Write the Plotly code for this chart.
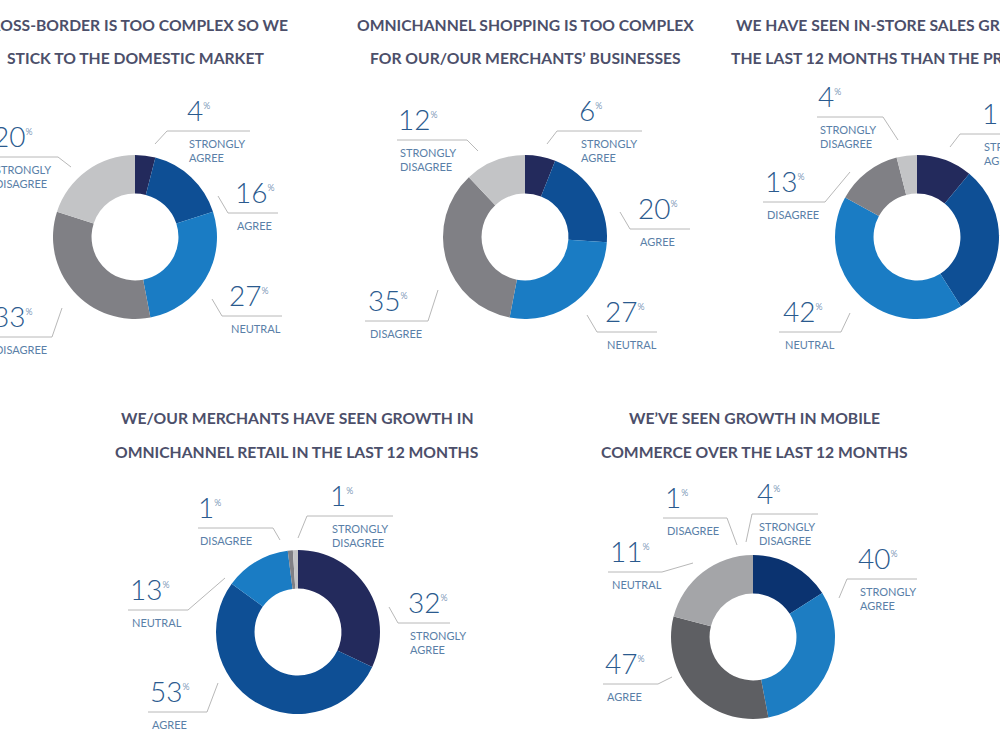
import plotly.graph_objects as go

W, H = 1000, 749

# ---------------- data ----------------
categories = ["STRONGLY<br>AGREE", "AGREE", "NEUTRAL", "DISAGREE", "STRONGLY<br>DISAGREE"]

cross_border_pct = [4, 16, 27, 33, 20]
omni_complex_pct = [6, 20, 27, 35, 12]
instore_growth_pct = [11, 30, 42, 13, 4]
omni_growth_pct = [32, 53, 13, 1, 1]
mobile_label_pct = [40, 47, 11, 1, 4]          # values printed on the labels
mobile_ring_share = [16, 31, 32, 21]           # ring segments as drawn in the picture

titles = [
    ["CROSS-BORDER IS TOO COMPLEX SO WE", "STICK TO THE DOMESTIC MARKET"],
    ["OMNICHANNEL SHOPPING IS TOO COMPLEX", "FOR OUR/OUR MERCHANTS\u2019 BUSINESSES"],
    ["WE HAVE SEEN IN-STORE SALES GROW MORE IN", "THE LAST 12 MONTHS THAN THE PREVIOUS 12"],
    ["WE/OUR MERCHANTS HAVE SEEN GROWTH IN", "OMNICHANNEL RETAIL IN THE LAST 12 MONTHS"],
    ["WE\u2019VE SEEN GROWTH IN MOBILE", "COMMERCE OVER THE LAST 12 MONTHS"],
]

# ---------------- styles ----------------
pal_main = ["#232a5c", "#0e4f95", "#1a7cc4", "#808085", "#c3c4c6"]
pal_mobile = ["#0b3370", "#1d7dc2", "#5e5f63", "#a4a5a8"]
TITLE_C = "#4c4f6a"
NUM_C = "#2a5a8e"
CAT_C = "#5a7fa8"
LINE_C = "#b8b8b8"
HOLE = 0.53
R = 82

def px(x, y):
    return x / W, 1 - y / H

fig = go.Figure()

# donut layout: centre (px)
donuts = [
    dict(values=cross_border_pct, colors=pal_main, c=(135, 237)),
    dict(values=omni_complex_pct, colors=pal_main, c=(525, 237)),
    dict(values=instore_growth_pct, colors=pal_main, c=(917, 237)),
    dict(values=omni_growth_pct, colors=pal_main, c=(298, 632)),
    dict(values=mobile_ring_share, colors=pal_mobile, c=(753, 637)),
]

for d in donuts:
    cx, cy = d["c"]
    x0, y1 = px(cx - R, cy - R)
    x1, y0 = px(cx + R, cy + R)
    fig.add_trace(go.Pie(
        values=d["values"],
        marker=dict(colors=d["colors"], line=dict(width=0)),
        hole=HOLE, sort=False, direction="clockwise", rotation=0,
        textinfo="none", hoverinfo="skip", showlegend=False,
        domain=dict(x=[max(0, x0), min(1, x1)], y=[max(0, y0), min(1, y1)]),
    ))

# label placements: (text_x, line_y, line_x0, line_x1, tip_x, tip_y, elbow side)
placements = [
    [(187, 131, 167, 250, 155, 144, "l"), (235, 213, 228, 278, 218, 196, "l"),
     (229, 316, 222, 282, 212, 299, "l"), (-7, 337, -5, 52, 62, 308, "r"),
     (-7, 157, -5, 58, 71, 167, "r")],
    [(579, 131, 557, 642, 547, 144, "l"), (638, 229, 630, 690, 620, 212, "l"),
     (605, 332, 597, 657, 587, 315, "l"), (368, 321, 365, 428, 438, 290, "r"),
     (398, 140, 397, 467, 478, 151, "r")],
    [(982, 134, 960, 1040, 950, 147, "l"), (1015, 250, 1008, 1070, 1000, 235, "l"),
     (783, 332, 779, 841, 850, 313, "r"), (765, 202, 763, 825, 850, 172, "r"),
     (818, 117, 817, 883, 898, 140, "r")],
    [(408, 623, 398, 450, 389, 607, "l"), (150, 712, 148, 207, 218, 683, "r"),
     (130, 610, 128, 188, 225, 578, "r"), (198, 528, 198, 273, 280, 540, "r"),
     (330, 516, 307, 393, 298, 538, "l")],
    [(858, 579, 847, 917, 839, 598, "l"), (605, 684, 603, 658, 672, 677, "r"),
     (610, 572, 608, 662, 693, 563, "r"), (665, 518, 663, 727, 737, 545, "r"),
     (757, 514, 752, 818, 746, 542, "l")],
]

label_values = [cross_border_pct, omni_complex_pct, instore_growth_pct,
                omni_growth_pct, mobile_label_pct]

shapes = []
annotations = []
for vals, pl in zip(label_values, placements):
    for v, cat, (tx, ly, lx0, lx1, tipx, tipy, side) in zip(vals, categories, pl):
        ex = lx0 if side == "l" else lx1
        ax, ay = px(tipx, tipy)
        bx, by = px(ex, ly)
        shapes.append(dict(type="line", xref="paper", yref="paper", x0=ax, y0=ay, x1=bx, y1=by,
                           line=dict(color=LINE_C, width=1)))
        sx0, sy = px(lx0, ly)
        sx1, _ = px(lx1, ly)
        shapes.append(dict(type="line", xref="paper", yref="paper", x0=sx0, y0=sy, x1=sx1, y1=sy,
                           line=dict(color=LINE_C, width=1)))
        nx, ny = px(tx - 2, ly - 2)
        annotations.append(dict(
            xref="paper", yref="paper", x=nx, y=ny, xanchor="left", yanchor="bottom",
            text=f"{v}<sup><span style='font-size:9px'>%</span></sup>", showarrow=False,
            font=dict(family="Lato", size=28, color=NUM_C, weight=300)))
        cx_, cy_ = px(tx, ly + 4)
        annotations.append(dict(
            xref="paper", yref="paper", x=cx_, y=cy_, xanchor="left", yanchor="top",
            text=cat, showarrow=False, align="left",
            font=dict(family="Lato", size=11, color=CAT_C)))

# titles: (x, anchor, y) for each line
title_pos = [
    [(290, "right", 25), (135, "center", 58)],
    [(525, "center", 25), (525, "center", 58)],
    [(734, "left", 25), (729, "left", 58)],
    [(297, "center", 418), (297, "center", 452)],
    [(754, "center", 418), (754, "center", 452)],
]
for tl, tp in zip(titles, title_pos):
    for text, (x, anc, y) in zip(tl, tp):
        xx, yy = px(x, y)
        annotations.append(dict(
            xref="paper", yref="paper", x=xx, y=yy, xanchor=anc, yanchor="middle",
            text=text, showarrow=False,
            font=dict(family="Lato", size=15.7, color=TITLE_C, weight=700)))

fig.update_layout(
    width=W, height=H,
    margin=dict(l=0, r=0, t=0, b=0),
    paper_bgcolor="white", plot_bgcolor="white",
    shapes=shapes, annotations=annotations,
    showlegend=False,
)

fig.write_html("out.html")
